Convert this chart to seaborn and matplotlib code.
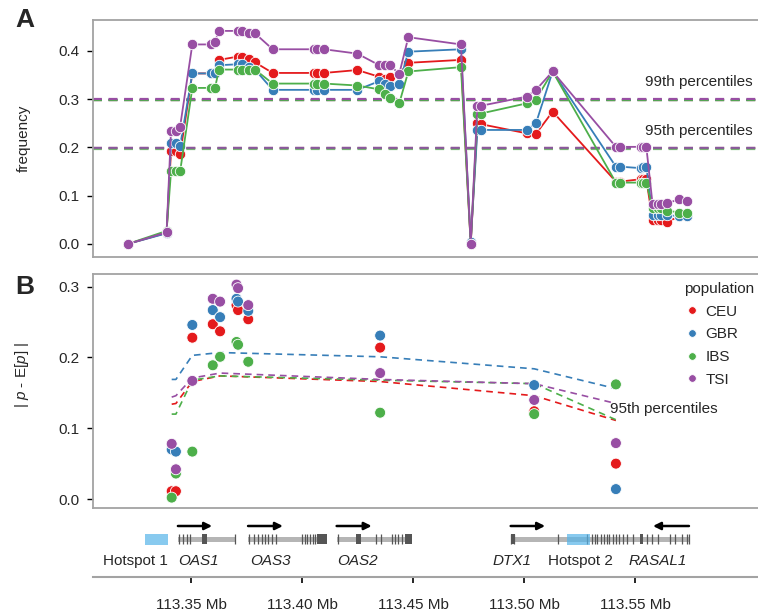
import numpy as np
import pandas as pd
import matplotlib
matplotlib.use("Agg")
import matplotlib.pyplot as plt
import seaborn as sns

# Style
sns.set_style("white")
plt.rcParams["font.family"] = ["Liberation Sans", "DejaVu Sans"]
plt.rcParams["mathtext.fontset"] = "custom"
plt.rcParams["mathtext.rm"] = "Liberation Sans"
plt.rcParams["mathtext.it"] = "Liberation Sans:italic"

populations = ["CEU", "GBR", "IBS", "TSI"]
colors = ["#e41a1c", "#377eb8", "#4daf4a", "#984ea3"]
palette = dict(zip(populations, colors))

# ---- A: allele frequency along the region (Mb) ----
freq_pos = [113.3215, 113.3390, 113.3410, 113.3432, 113.3451, 113.3506, 113.3589,
            113.3608, 113.3626, 113.3713, 113.3731, 113.3763, 113.3788, 113.3868,
            113.4054, 113.4066, 113.4100, 113.4249, 113.4348, 113.4374, 113.4396,
            113.4438, 113.4479, 113.4716, 113.4760, 113.4790, 113.4806, 113.5012,
            113.5054, 113.5129, 113.5414, 113.5432, 113.5525, 113.5534, 113.5551,
            113.5579, 113.5603, 113.5616, 113.5646, 113.5700, 113.5734]
freq_ceu = [0.000, 0.023, 0.192, 0.192, 0.186, 0.353, 0.353, 0.353, 0.381, 0.388, 0.388,
            0.382, 0.376, 0.354, 0.354, 0.354, 0.354, 0.360, 0.346, 0.341, 0.346, 0.352,
            0.375, 0.381, 0.000, 0.250, 0.248, 0.229, 0.228, 0.274, 0.129, 0.129, 0.134,
            0.134, 0.134, 0.050, 0.050, 0.050, 0.046, 0.057, 0.057]
freq_gbr = [0.000, 0.022, 0.208, 0.208, 0.203, 0.353, 0.353, 0.353, 0.370, 0.372, 0.372,
            0.367, 0.361, 0.319, 0.319, 0.319, 0.319, 0.319, 0.337, 0.332, 0.326, 0.331,
            0.398, 0.403, 0.005, 0.236, 0.236, 0.236, 0.250, 0.357, 0.160, 0.160, 0.157,
            0.160, 0.160, 0.060, 0.060, 0.060, 0.060, 0.057, 0.057]
freq_ibs = [0.000, 0.027, 0.150, 0.150, 0.150, 0.323, 0.323, 0.323, 0.361, 0.361, 0.361,
            0.361, 0.361, 0.332, 0.332, 0.332, 0.332, 0.328, 0.320, 0.310, 0.303, 0.291,
            0.357, 0.366, 0.000, 0.270, 0.270, 0.291, 0.299, 0.357, 0.127, 0.127, 0.127,
            0.127, 0.127, 0.074, 0.074, 0.074, 0.069, 0.065, 0.065]
freq_tsi = [0.000, 0.024, 0.234, 0.234, 0.243, 0.413, 0.413, 0.419, 0.441, 0.441, 0.441,
            0.436, 0.436, 0.403, 0.403, 0.403, 0.403, 0.394, 0.370, 0.370, 0.370, 0.352,
            0.428, 0.413, 0.000, 0.286, 0.286, 0.305, 0.319, 0.357, 0.201, 0.201, 0.201,
            0.201, 0.201, 0.083, 0.083, 0.083, 0.084, 0.093, 0.089]
freq_p99 = [0.299, 0.298, 0.298, 0.300]
freq_p95 = [0.198, 0.198, 0.197, 0.199]

# ---- B: |p - E[p]| per SNP ----
dev_pos = [113.3413, 113.3432, 113.3506, 113.3598, 113.3631, 113.3705, 113.3712,
           113.3758, 113.4352, 113.5046, 113.5414]
dev_ceu = [0.011, 0.011, 0.228, 0.247, 0.237, 0.274, 0.267, 0.254, 0.214, 0.124, 0.050]
dev_gbr = [0.070, 0.067, 0.246, 0.267, 0.257, 0.283, 0.279, 0.266, 0.231, 0.161, 0.014]
dev_ibs = [0.002, 0.036, 0.067, 0.189, 0.201, 0.222, 0.218, 0.194, 0.122, 0.120, 0.162]
dev_tsi = [0.078, 0.042, 0.167, 0.283, 0.279, 0.303, 0.298, 0.274, 0.178, 0.140, 0.079]

thr_pos = [113.3413, 113.3432, 113.3506, 113.3631, 113.4352, 113.5046, 113.5414]
thr_ceu = [0.134, 0.135, 0.166, 0.174, 0.166, 0.146, 0.111]
thr_gbr = [0.169, 0.169, 0.203, 0.207, 0.201, 0.184, 0.156]
thr_ibs = [0.120, 0.120, 0.168, 0.174, 0.168, 0.163, 0.112]
thr_tsi = [0.144, 0.146, 0.171, 0.178, 0.169, 0.163, 0.135]

# ---- gene track ----
gene_names = ["OAS1", "OAS3", "OAS2", "DTX1", "RASAL1"]
gene_start = [113.3443, 113.3758, 113.4159, 113.4940, 113.5360]
gene_end = [113.3698, 113.4111, 113.4494, 113.5360, 113.5743]
gene_label_x = [113.3533, 113.3856, 113.4252, 113.4948, 113.5603]
arrow_from = [113.3441, 113.3757, 113.4156, 113.4940, 113.5743]
arrow_to = [113.3595, 113.3914, 113.4314, 113.5095, 113.5581]
exon_lines = [113.3446, 113.3465, 113.3483, 113.3495, 113.3698,
              113.3763, 113.3784, 113.3803, 113.3818, 113.3833, 113.3848, 113.3863,
              113.3883, 113.3999, 113.4014, 113.4024, 113.4036, 113.4048, 113.4059,
              113.4164, 113.4333, 113.4356, 113.4404, 113.4419, 113.4434, 113.4449,
              113.4942, 113.4955, 113.5153, 113.5283,
              113.5305, 113.5318, 113.5330, 113.5345, 113.5360, 113.5372, 113.5385,
              113.5400, 113.5415, 113.5430, 113.5445, 113.5463,
              113.5492, 113.5553, 113.5575, 113.5605, 113.5658, 113.5680, 113.5710,
              113.5733, 113.5743]
exon_blocks = [(113.3548, 0.0025), (113.4069, 0.0042), (113.4243, 0.0021),
               (113.4464, 0.0030), (113.4941, 0.0018), (113.5523, 0.0015)]
hotspot_names = ["Hotspot 1", "Hotspot 2"]
hotspot_start = [113.3293, 113.5193]
hotspot_width = [0.0103, 0.0103]
hotspot_label_x = [113.3248, 113.5254]
mb_ticks = [113.35, 113.40, 113.45, 113.50, 113.55]

# long tables for seaborn
freq_df = pd.DataFrame({
    "pos": freq_pos * 4,
    "freq": freq_ceu + freq_gbr + freq_ibs + freq_tsi,
    "population": np.repeat(populations, len(freq_pos)),
})
dev_df = pd.DataFrame({
    "pos": dev_pos * 4,
    "dev": dev_ceu + dev_gbr + dev_ibs + dev_tsi,
    "population": np.repeat(populations, len(dev_pos)),
})
thr_df = pd.DataFrame({
    "pos": thr_pos * 4,
    "thr": thr_ceu + thr_gbr + thr_ibs + thr_tsi,
    "population": np.repeat(populations, len(thr_pos)),
})

W, H = 758, 613
fs = 11
fig = plt.figure(figsize=(W / 100, H / 100), dpi=100)
left = 93 / W
width = (772 - 93) / W
xlim = (113.35 + (93 - 191) / 2220, 113.35 + (772 - 191) / 2220)

axA = fig.add_axes([left, 1 - 257 / H, width, 237 / H])
axB = fig.add_axes([left, 1 - 508 / H, width, 234 / H])
axG = fig.add_axes([left, 1 - 577 / H, width, 62 / H])

spine_col = "#a3a3a3"
for ax in (axA, axB):
    ax.set_xlim(*xlim)
    for s in ax.spines.values():
        s.set_color(spine_col)
        s.set_linewidth(1.3)
    ax.set_xticks([])
    ax.tick_params(axis="y", left=True, length=4, width=1, color="black",
                   labelsize=fs, pad=6)
    ax.set_xlabel("")

# 1. frequency panel
for p, v99, v95 in zip(populations, freq_p99, freq_p95):
    axA.axhline(v99, color=palette[p], lw=1.6, ls=(0, (4, 3)), zorder=1)
    axA.axhline(v95, color=palette[p], lw=1.6, ls=(0, (4, 3)), zorder=1, alpha=0.75)

sns.lineplot(
    data=freq_df, x="pos", y="freq", hue="population", hue_order=populations,
    palette=palette, estimator=None, marker="o", markersize=7.5,
    markeredgecolor="white", markeredgewidth=0.6, linewidth=1.3,
    legend=False, ax=axA, zorder=3
)
axA.set_ylim(-0.027, 0.4636)
axA.set_yticks([0.0, 0.1, 0.2, 0.3, 0.4])
axA.set_ylabel("frequency", fontsize=fs)
axA.yaxis.set_label_coords(-0.092, 0.5)
axA.set_xlabel("")
axA.text(113.5545, 0.336, "99th percentiles", fontsize=fs, va="center", ha="left")
axA.text(113.5545, 0.2346, "95th percentiles", fontsize=fs, va="center", ha="left")

# 2. deviation panel
for p, col in palette.items():
    sub = thr_df[thr_df["population"] == p]
    axB.plot(sub["pos"], sub["thr"], color=col, lw=1.2, ls=(0, (4, 3)), zorder=1)

sns.scatterplot(
    data=dev_df, x="pos", y="dev", hue="population", hue_order=populations,
    palette=palette, s=62, edgecolor="white", linewidth=0.6, ax=axB, zorder=3
)
axB.set_ylim(-0.0127, 0.318)
axB.set_yticks([0.0, 0.1, 0.2, 0.3])
axB.set_ylabel(r"| $p$ - E[$p$] |", fontsize=fs)
axB.yaxis.set_label_coords(-0.092, 0.57)
axB.set_xlabel("")
axB.text(113.5387, 0.127, "95th percentiles", fontsize=fs, va="center", ha="left")

sns.move_legend(
    axB, "upper left", bbox_to_anchor=(684 / W, 1 - 282 / H),
    bbox_transform=fig.transFigure, frameon=False, title="population",
    fontsize=fs, title_fontsize=fs, markerscale=0.7, handletextpad=0.3,
    labelspacing=0.57, borderaxespad=0, borderpad=0, handlelength=1.1
)
axB.get_legend()._legend_box.align = "left"

# 3. gene track
axG.set_xlim(*xlim)
axG.set_ylim(0, 62)
for name in ("top", "right", "left"):
    axG.spines[name].set_visible(False)
axG.spines["bottom"].set_color(spine_col)
axG.spines["bottom"].set_linewidth(1.5)
axG.set_yticks([])
axG.set_xticks(mb_ticks)
axG.set_xticklabels([f"{t:.2f} Mb" for t in mb_ticks], fontsize=fs)
axG.tick_params(axis="x", bottom=True, length=4, width=1.2, color="black", pad=11)

bar_y = 38
axG.broken_barh([(s, e - s) for s, e in zip(gene_start, gene_end)], (bar_y - 2.5, 5),
                facecolor="#b5b5b5", edgecolor="none", zorder=1)
axG.vlines(exon_lines, bar_y - 5, bar_y + 5, color="#555555", lw=0.9, zorder=2)
axG.broken_barh(exon_blocks, (bar_y - 5, 10), facecolor="#555555",
                edgecolor="none", zorder=2)
axG.broken_barh(list(zip(hotspot_start, hotspot_width)), (bar_y - 5.5, 11),
                facecolor="#56b4e9", alpha=0.7, edgecolor="none", zorder=3)
for a, b in zip(arrow_from, arrow_to):
    axG.annotate("", xy=(b, 51), xytext=(a, 51),
                 arrowprops=dict(arrowstyle="-|>", color="black", lw=1.8,
                                 mutation_scale=11, shrinkA=0, shrinkB=0))
for name, x in zip(gene_names, gene_label_x):
    axG.text(x, 16, name, fontsize=fs, style="italic", ha="center", va="center")
for name, x in zip(hotspot_names, hotspot_label_x):
    axG.text(x, 16, name, fontsize=fs, ha="center", va="center")

# panel letters
fig.text(25 / W, 1 - 20 / H, "A", fontsize=19, fontweight="bold", ha="center", va="center")
fig.text(25 / W, 1 - 287 / H, "B", fontsize=19, fontweight="bold", ha="center", va="center")

fig.savefig("out.png", dpi=100)
plt.close()
